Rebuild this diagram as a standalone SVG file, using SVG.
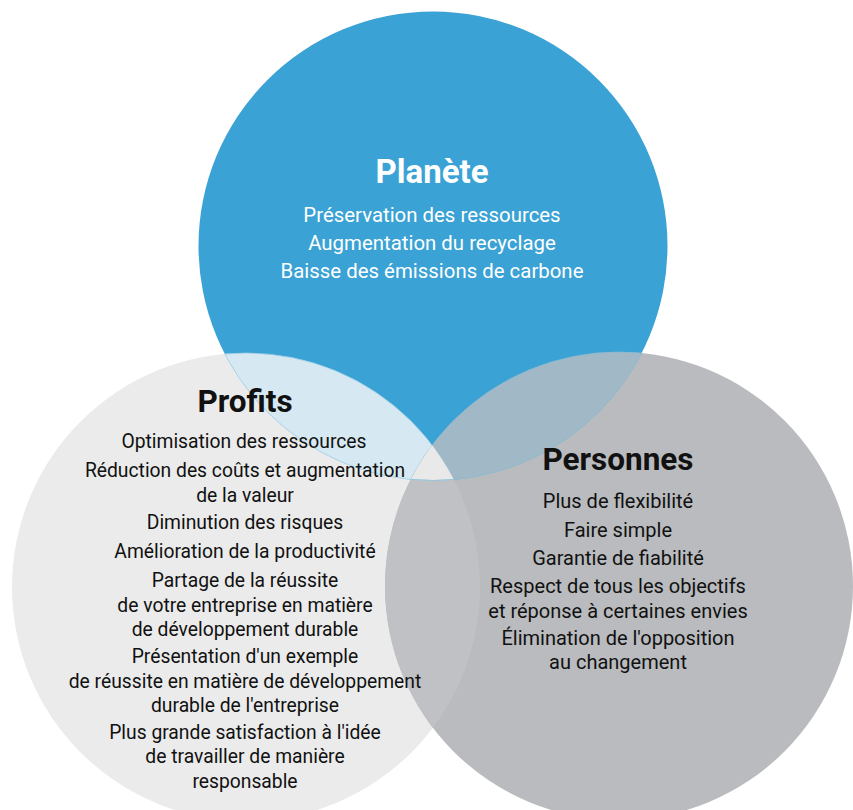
<svg xmlns="http://www.w3.org/2000/svg" width="853" height="810" viewBox="0 0 853 810">
<style>
.t{font-family:Roboto,"Open Sans","Liberation Sans",sans-serif;text-anchor:middle}
.h{font-size:31.5px;font-weight:bold}
.b{font-size:19.3px}
.bp{font-size:20.4px}
.bq{font-size:20px}
.w{fill:#ffffff}
.k{fill:#111111}
</style>
<defs>
<clipPath id="cB"><circle cx="433" cy="246" r="234.5"/></clipPath>
<clipPath id="cL"><circle cx="246" cy="587" r="234"/></clipPath>
<clipPath id="cR"><circle cx="619" cy="586" r="234"/></clipPath>
</defs>
<rect width="853" height="810" fill="#ffffff"/>
<g id="profits-circle"><circle cx="246" cy="587" r="234" fill="#ebebeb"/></g>
<g id="personnes-circle"><circle cx="619" cy="586" r="234" fill="#b9bbbe"/></g>
<g id="overlap-lr" clip-path="url(#cL)"><circle cx="619" cy="586" r="234" fill="#c0c1c4"/></g>
<g id="planete-circle"><circle cx="433" cy="246" r="234.5" fill="#3aa2d4"/></g>
<g id="overlap-bl" clip-path="url(#cB)"><circle cx="246" cy="587" r="234" fill="#d6e9f2" stroke="#9fcfe6" stroke-width="0.8"/></g>
<g id="overlap-br" clip-path="url(#cB)"><circle cx="619" cy="586" r="234" fill="#a1b8c6" stroke="#8fb9d0" stroke-width="0.8"/></g>
<g id="overlap-all" clip-path="url(#cB)"><g clip-path="url(#cL)"><circle cx="619" cy="586" r="234" fill="#e9e9e9"/></g></g>
<g id="edges" fill="none" stroke-width="0.8">
<g clip-path="url(#cL)"><circle cx="433" cy="246" r="234.5" stroke="#a9d4ea"/></g>
<g clip-path="url(#cR)"><circle cx="433" cy="246" r="234.5" stroke="#93bcd2"/></g>
</g>
<g id="planete-text" class="t w">
<text class="h" x="432" y="183" style="font-size:33px">Planète</text>
<text class="bp" x="432" y="222">Préservation des ressources</text>
<text class="bp" x="432" y="250">Augmentation du recyclage</text>
<text class="bp" x="432" y="278">Baisse des émissions de carbone</text>
</g>
<g id="profits-text" class="t k">
<text class="h" x="245" y="412">Profits</text>
<text class="b" x="244" y="448">Optimisation des ressources</text>
<text class="b" x="245" y="477">Réduction des coûts et augmentation</text>
<text class="b" x="245" y="502">de la valeur</text>
<text class="b" x="245" y="529">Diminution des risques</text>
<text class="b" x="245" y="558">Amélioration de la productivité</text>
<text class="b" x="245" y="587">Partage de la réussite</text>
<text class="b" x="245" y="612">de votre entreprise en matière</text>
<text class="b" x="245" y="636">de développement durable</text>
<text class="b" x="245" y="663">Présentation d'un exemple</text>
<text class="b" x="245" y="688">de réussite en matière de développement</text>
<text class="b" x="245" y="712">durable de l'entreprise</text>
<text class="b" x="245" y="739">Plus grande satisfaction à l'idée</text>
<text class="b" x="245" y="763">de travailler de manière</text>
<text class="b" x="245" y="788">responsable</text>
</g>
<g id="personnes-text" class="t k">
<text class="h" x="618" y="470">Personnes</text>
<text class="bq" x="618" y="508">Plus de flexibilité</text>
<text class="bq" x="618" y="537">Faire simple</text>
<text class="bq" x="618" y="565">Garantie de fiabilité</text>
<text class="bq" x="618" y="593">Respect de tous les objectifs</text>
<text class="bq" x="618" y="618">et réponse à certaines envies</text>
<text class="bq" x="618" y="645">Élimination de l'opposition</text>
<text class="bq" x="618" y="669">au changement</text>
</g>
</svg>
